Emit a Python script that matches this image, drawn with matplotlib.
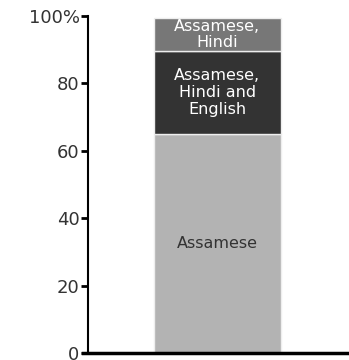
import matplotlib.pyplot as plt

# language groups stacked bottom to top, in percent
segments = ["Assamese", "Assamese, Hindi and English", "Assamese, Hindi"]
labels = ["Assamese", "Assamese,\nHindi and\nEnglish", "Assamese,\nHindi"]
shares = [65, 24.5, 10]
colours = ["#b3b3b3", "#333333", "#777777"]
text_colours = ["#333333", "white", "white"]

yticks = [0, 20, 40, 60, 80, 100]
ytick_labels = ["0", "20", "40", "60", "80", "100%"]

fig = plt.figure(figsize=(3.49, 3.6), dpi=100)
ax = fig.add_axes([0.252, 0.0194, 0.748, 0.9362])

bottom = 0
for share, col, lab, tcol in zip(shares, colours, labels, text_colours):
    ax.bar(0.496, share, width=0.487, bottom=bottom, color=col,
           edgecolor="#eeeeee", linewidth=1)
    ax.text(0.496, bottom + share / 2, lab, ha="center", va="center",
            color=tcol, fontsize=11.5, linespacing=1.15)
    bottom += share

ax.set_xlim(0, 1)
ax.set_ylim(0, 100)
ax.set_xticks([])
ax.set_yticks(yticks)
ax.set_yticklabels(ytick_labels, fontsize=13, color="#333333")
ax.tick_params(axis="y", length=5, width=2, pad=1, color="black")

for side in ["top", "right"]:
    ax.spines[side].set_visible(False)
ax.spines["left"].set_linewidth(1.5)
ax.spines["bottom"].set_linewidth(2.5)
ax.spines["bottom"].set_bounds(-0.02, 1)

fig.savefig("out.png", dpi=100)
